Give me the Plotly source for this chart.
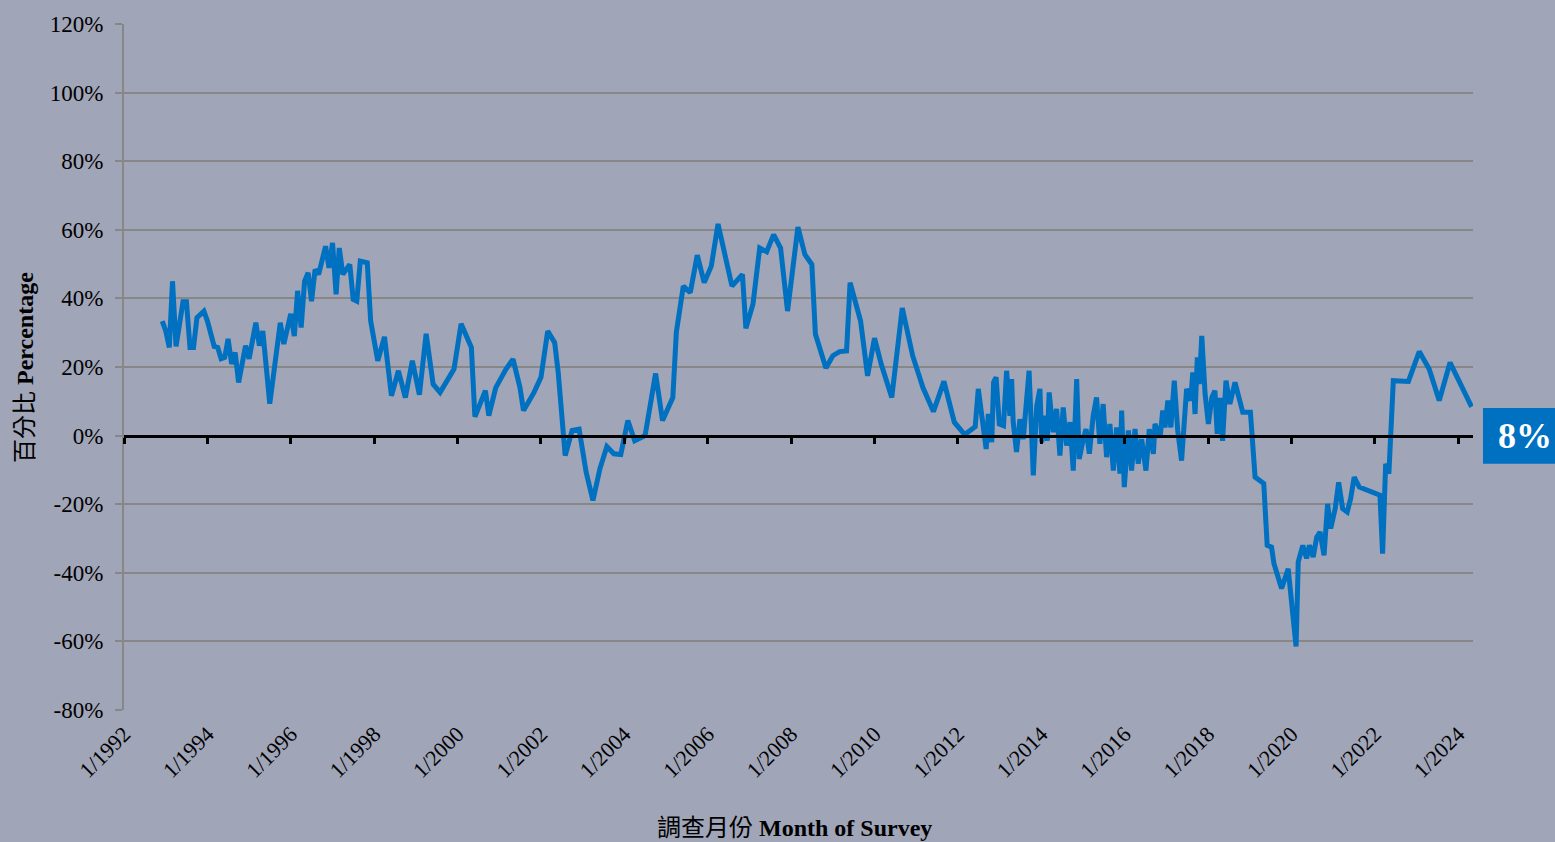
import plotly.graph_objects as go

# ---- data ----
survey_dates = [
    "1992-12", "1993-01", "1993-02", "1993-03", "1993-04", "1993-06", "1993-07", "1993-08",
    "1993-09", "1993-10", "1993-12", "1994-01", "1994-03", "1994-04", "1994-05", "1994-06",
    "1994-07", "1994-08", "1994-09", "1994-10", "1994-12", "1995-01", "1995-03", "1995-04",
    "1995-05", "1995-07", "1995-10", "1995-11", "1996-01", "1996-02", "1996-03", "1996-04",
    "1996-05", "1996-06", "1996-07", "1996-08", "1996-09", "1996-11", "1996-12", "1997-01",
    "1997-02", "1997-03", "1997-04", "1997-06", "1997-07", "1997-08", "1997-09", "1997-11",
    "1997-12", "1998-02", "1998-04", "1998-06", "1998-08", "1998-10", "1998-12", "1999-02",
    "1999-04", "1999-06", "1999-08", "1999-10", "1999-12", "2000-02", "2000-05", "2000-06",
    "2000-09", "2000-10", "2000-12", "2001-03", "2001-05", "2001-07", "2001-08", "2001-11",
    "2002-01", "2002-03", "2002-05", "2002-06", "2002-08", "2002-10", "2002-12", "2003-02",
    "2003-04", "2003-06", "2003-08", "2003-10", "2003-12", "2004-02", "2004-04", "2004-07",
    "2004-08", "2004-10", "2004-12", "2005-03", "2005-04", "2005-06", "2005-08", "2005-10",
    "2005-12", "2006-02", "2006-04", "2006-08", "2006-11", "2006-12", "2007-02", "2007-04",
    "2007-06", "2007-08", "2007-10", "2007-12", "2008-03", "2008-05", "2008-07", "2008-08",
    "2008-11", "2009-01", "2009-03", "2009-05", "2009-06", "2009-09", "2009-11", "2010-01",
    "2010-03", "2010-06", "2010-09", "2010-12", "2011-03", "2011-06", "2011-09", "2011-12",
    "2012-03",
    "2012-06-01", "2012-06-28", "2012-08-06", "2012-09-05", "2012-09-24", "2012-10-24",
    "2012-11-09", "2012-12-01", "2012-12-29", "2013-02-04", "2013-03-03", "2013-04-01",
    "2013-04-16", "2013-04-30", "2013-05-29", "2013-06-28", "2013-07-27", "2013-09-16",
    "2013-10-23", "2013-11-22", "2013-12-20", "2014-01-05", "2014-02-04", "2014-02-23",
    "2014-03-11", "2014-04-15", "2014-05-15", "2014-06-13", "2014-07-12", "2014-08-11",
    "2014-09-10", "2014-10-08", "2014-11-07", "2014-11-29", "2015-01-04", "2015-01-28",
    "2015-02-26", "2015-04-01", "2015-04-30", "2015-05-29", "2015-06-27", "2015-07-27",
    "2015-08-25", "2015-09-24", "2015-10-23", "2015-11-21", "2015-12-06", "2015-12-29",
    "2016-02-03", "2016-03-02", "2016-04-01", "2016-04-29", "2016-05-29", "2016-07-06",
    "2016-08-04", "2016-09-09", "2016-09-23", "2016-11-07", "2016-11-30", "2016-12-20",
    "2017-01-14", "2017-02-09", "2017-03-11", "2017-04-10", "2017-05-14", "2017-06-27",
    "2017-08-02", "2017-08-20", "2017-09-09", "2017-09-29", "2017-10-16", "2017-11-07",
    "2017-12-06", "2018-01-04", "2018-02-03", "2018-03-02", "2018-03-22", "2018-04-15",
    "2018-05-08", "2018-06-07", "2018-07-11", "2018-08-25",
    "2018-11-01", "2019-01-07", "2019-02-17", "2019-05-04", "2019-06-03", "2019-07-11",
    "2019-08-01", "2019-10-07", "2019-12-04", "2020-02-11", "2020-03-01", "2020-04-10",
    "2020-05-13", "2020-06-07", "2020-07-10", "2020-08-10", "2020-09-08", "2020-10-13",
    "2020-11-13", "2020-12-10", "2021-01-19", "2021-02-18", "2021-03-25", "2021-05-04",
    "2021-06-03", "2021-07-04", "2021-08-18", "2022-02-15", "2022-03-10", "2022-04-06",
    "2022-05-04", "2022-06-12", "2022-10-22", "2023-01-25", "2023-04-22", "2023-07-19",
    "2023-10-22", "2024-04-28",
]

percentage = [
    33.4, 30.5, 25.7, 45.0, 26.0, 39.0, 39.0, 25.7,
    25.7, 34.4, 36.3, 33.4, 26.0, 25.7, 22.4, 22.8,
    28.2, 20.9, 24.2, 15.5, 26.2, 22.4, 32.9, 26.2,
    30.5, 9.3, 32.9, 26.7, 35.5, 29.0, 42.2, 31.5,
    45.0, 47.5, 39.2, 48.4, 47.0, 55.2, 48.9, 56.2,
    41.2, 54.7, 47.0, 49.9, 39.7, 39.2, 50.9, 50.4,
    33.4, 21.8, 28.8, 11.6, 18.9, 11.1, 21.8, 11.9,
    29.7, 15.0, 12.6, 16.0, 19.4, 32.6, 25.7, 5.5,
    13.1, 5.8, 14.0, 19.4, 22.3, 14.0, 7.3, 12.6,
    17.0, 30.5, 27.1, 18.4, -5.8, 1.5, 1.9, -10.7,
    -18.9, -9.7, -3.2, -5.3, -5.5, 4.4, -1.5, 0.0,
    6.8, 18.1, 4.4, 11.1, 30.2, 43.6, 41.7, 52.6,
    44.6, 49.4, 61.7, 43.6, 47.0, 31.3, 38.3, 54.7,
    53.6, 58.6, 54.7, 36.3, 60.8, 52.8, 49.9, 29.6,
    19.7, 23.3, 24.5, 24.7, 44.6, 33.4, 17.4, 28.4,
    20.8, 11.1, 37.2, 23.3, 14.0, 7.0, 15.8, 3.9,
    0.3,
    2.6, 13.6, 4.8, -3.9, 6.3, -1.9,
    15.5, 17.0, 3.4, 2.9, 18.9, 5.8,
    16.5, 3.9, -4.8, 4.8, -1.0, 18.9,
    -11.6, 8.7, 13.6, -1.9, 5.8, -1.5,
    12.6, 1.0, 7.8, -5.8, 8.2, -2.9,
    3.9, -10.2, 16.5, -6.8, -1.0, 1.9,
    -5.3, 5.8, 11.1, -2.4, 9.2, -6.3,
    3.4, -10.2, 2.4, -11.1, 7.3, -15.0,
    1.5, -10.2, 1.9, -8.2, -1.0, -10.2,
    1.9, -5.3, 3.4, -0.5, 7.3, 2.4,
    10.2, 2.4, 16.0, 1.5, -7.3, 13.6,
    10.2, 18.4, 6.3, 22.8, 15.0, 29.1,
    12.1, 3.4, 11.1, 13.1, 0.5, 11.0,
    -1.5, 16.0, 9.2, 15.5,
    6.8, 6.8, -12.1, -14.0, -32.0, -32.5,
    -37.3, -44.6, -38.8, -61.5, -36.8, -32.0,
    -35.8, -32.0, -35.4, -29.6, -28.1, -34.9,
    -19.9, -27.1, -21.3, -13.6, -21.3, -22.3,
    -18.4, -12.1, -15.0, -17.4, -34.4, -8.2,
    -11.1, 16.0, 15.8, 24.5, 19.4, 10.2,
    21.3, 8.4,
]

tick_dates = [f"{y}-01-01" for y in range(1992, 2025, 2)]
tick_labels = [f"1/{y}" for y in range(1992, 2025, 2)]

y_tick_values = [-80, -60, -40, -20, 0, 20, 40, 60, 80, 100, 120]
y_tick_labels = [f"{v}%" for v in y_tick_values]

x_range = ["1992-01-01", "2024-05-10"]
y_range = [-80, 120]

BG = "#A0A5B8"
GRID = "#878787"
BLUE = "#0070C0"
FONT = "Liberation Serif, Times New Roman, Noto Sans CJK TC, serif"

fig = go.Figure()

fig.add_trace(go.Scatter(
    x=survey_dates, y=percentage, mode="lines",
    line=dict(color=BLUE, width=5), hoverinfo="x+y", showlegend=False,
))

# helper trace so the overlaid zero-line axis is drawn
fig.add_trace(go.Scatter(
    x=survey_dates[:1], y=percentage[:1], xaxis="x2", mode="markers",
    marker=dict(opacity=0), hoverinfo="skip", showlegend=False,
))

fig.update_layout(
    width=1555, height=842,
    paper_bgcolor=BG, plot_bgcolor=BG,
    margin=dict(l=124, r=82, t=22, b=132),
    font=dict(family=FONT, size=22, color="black"),
    xaxis=dict(
        type="date", range=x_range,
        tickvals=tick_dates, ticktext=tick_labels, tickangle=-45,
        tickfont=dict(family=FONT, size=22, color="black"),
        showgrid=False, zeroline=False, showline=False, ticks="",
        ticklabelstandoff=6,
    ),
    xaxis2=dict(
        type="date", range=x_range, overlaying="x", anchor="free", position=0.4,
        side="bottom", tickvals=tick_dates, showticklabels=False,
        ticks="outside", ticklen=6, tickwidth=3, tickcolor="black",
        showline=True, linecolor="black", linewidth=3, showgrid=False, zeroline=False,
    ),
    yaxis=dict(
        range=y_range, tickvals=y_tick_values, ticktext=y_tick_labels,
        tickfont=dict(family=FONT, size=23, color="black"),
        showgrid=True, gridcolor=GRID, gridwidth=2,
        zeroline=False, showline=True, linecolor=GRID, linewidth=2,
        ticks="outside", ticklen=7, tickcolor=GRID, tickwidth=2,
        ticklabelstandoff=7,
    ),
)

# axis titles
fig.add_annotation(
    text="百分比 <b>Percentage</b>", xref="paper", yref="paper",
    x=-0.0734, y=0.5, textangle=-90, showarrow=False,
    xanchor="center", yanchor="middle",
    font=dict(family=FONT, size=24, color="black"),
)
fig.add_annotation(
    text="調查月份 <b>Month of Survey</b>", xref="paper", yref="paper",
    x=0.4974, y=-0.1715, showarrow=False, xanchor="center", yanchor="middle",
    font=dict(family=FONT, size=24, color="black"),
)

# latest-value badge
fig.add_shape(
    type="rect", xref="paper", yref="paper",
    x0=1.0074, x1=1.07, y0=0.359, y1=0.4404,
    fillcolor=BLUE, line=dict(width=0), layer="above",
)
fig.add_annotation(
    text=f"<b>{round(percentage[-1])}%</b>", xref="paper", yref="paper",
    x=1.0386, y=0.3997, showarrow=False, xanchor="center", yanchor="middle",
    font=dict(family=FONT, size=36, color="white"),
)

fig.write_html(
    "out.html",
    config={"displayModeBar": False},
    post_script="document.body.style.margin='0';document.body.style.overflow='hidden';",
)
